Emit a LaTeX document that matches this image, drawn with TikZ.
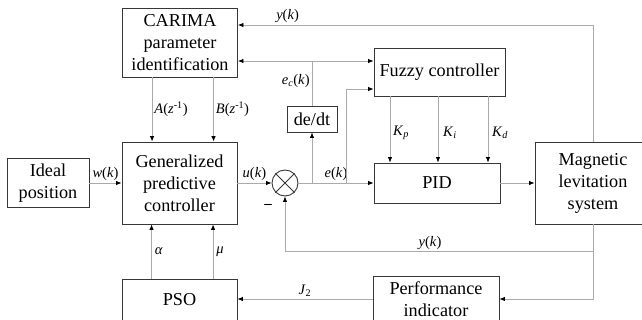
\documentclass[tikz,border=0pt]{standalone}
\usepackage{fontspec}
\setmainfont{Liberation Serif}
\definecolor{boxgray}{RGB}{55,55,55}
\definecolor{linegray}{RGB}{170,170,170}
\usetikzlibrary{arrows.meta,calc}

\newcommand{\ivar}[1]{\textit{#1}}
\newcommand{\ofk}{(\textit{k})}

\tikzset{
  block/.style={draw=boxgray, line width=0.9pt, align=center, inner sep=0pt, font=\fontsize{18.2}{22}\selectfont},
  conn/.style={draw=linegray, line width=0.8pt, -{Latex[length=5.5pt,width=4.5pt,color=black]}},
  wire/.style={draw=linegray, line width=0.8pt},
  sig/.style={font=\fontsize{14.5}{16}\selectfont, inner sep=1pt}
}

\begin{document}
\begin{tikzpicture}[x=1pt,y=-1pt]
\useasboundingbox (0,0) rectangle (642,320);

% blocks
\node[block, minimum width=115pt, minimum height=69pt] (carima) at (180,42.5) {CARIMA\\parameter\\identification};
\node[block, minimum width=115pt, minimum height=82pt] (gpc) at (179.5,183) {Generalized\\predictive\\controller};
\node[block, minimum width=82pt, minimum height=49pt] (ideal) at (48,183) {Ideal\\position};
\node[block, minimum width=115pt, minimum height=42pt] (pso) at (179.5,300) {PSO};
\node[block, minimum width=131pt, minimum height=48pt] (fuzzy) at (439.5,72) {Fuzzy controller};
\node[block, minimum width=50pt, minimum height=26pt] (dedt) at (312,119) {de/dt};
\node[block, minimum width=126pt, minimum height=40pt] (pid) at (437,183) {PID};
\node[block, minimum width=116pt, minimum height=82pt] (mag) at (593,183) {Magnetic\\levitation\\system};
\node[block, minimum width=126pt, minimum height=46pt] (perf) at (436,299) {Performance\\indicator};
\node[draw=boxgray, line width=0.9pt, circle, minimum size=26pt, inner sep=0pt] (sum) at (285,183) {};
\draw[boxgray, line width=0.9pt] (sum.north west) -- (sum.south east) (sum.north east) -- (sum.south west);

% junctions
\coordinate (dej) at (312,183);
\coordinate (ej) at (346,183);
\coordinate (ecj) at (312,61);
\coordinate (ytop) at (593,25);
\coordinate (yfb) at (593,251);

% forward path
\draw[conn] (ideal.east) -- (ideal.east -| gpc.west) node[sig, midway, above=1pt] {\ivar{w}\ofk};
\draw[conn] (gpc.east) -- (sum.west) node[sig, midway, above=1pt] {\ivar{u}\ofk};
\draw[conn] (sum.east) -- (pid.west) node[sig, pos=0.5, above=1pt] {\ivar{e}\ofk};
\draw[conn] (pid.east) -- (mag.west);
\node[font=\fontsize{15}{15}\selectfont\bfseries] (minus) at (268,206) {–};

% parameters into the predictive controller
\draw[conn] ($(carima.south west)+(30,0)$) coordinate (aout) -- (aout |- gpc.north) node[sig, midway, right=1pt] {\ivar{A}(\ivar{z}\textsuperscript{-1})};
\draw[conn] ($(carima.south west)+(91.5,0)$) coordinate (bout) -- (bout |- gpc.north) node[sig, midway, right=1pt] {\ivar{B}(\ivar{z}\textsuperscript{-1})};
\draw[conn] ($(pso.north west)+(30,0)$) coordinate (alout) -- (alout |- gpc.south) node[sig, midway, right=2pt] {\ivar{α}};
\draw[conn] ($(pso.north west)+(91.5,0)$) coordinate (muout) -- (muout |- gpc.south) node[sig, midway, right=2pt] {\ivar{μ}};

% error branches
\draw[conn] (dej) -- (dedt.south);
\draw[conn] (ej) |- ($(fuzzy.west)+(0,17)$);
\draw[wire] (dedt.north) -- (ecj) node[sig, pos=0.55, left=1pt] {\ivar{e}\textsubscript{\ivar{c}}\ofk};
\draw[conn] (ecj) -- (ecj -| carima.east);
\draw[conn] (ecj) -- (ecj -| fuzzy.west);

% gains
\foreach \gx/\gs/\gp in {390/p/401, 438/i/450, 488/d/500} {
  \draw[conn] (fuzzy.south -| \gx,0) -- (pid.north -| \gx,0);
  \node[sig] at (\gp,133) {\ivar{K}\textsubscript{\ivar{\gs}}};
}

% feedback
\draw[conn] (mag.north) -- (ytop) -- (ytop -| carima.east) node[sig, pos=0.86, above=1pt] {\ivar{y}\ofk};
\draw[conn] (mag.south) -- (yfb) -| (sum.south);
\node[sig] (ylow) at (430,243) {\ivar{y}\ofk};
\draw[conn] (yfb) |- (perf.east);
\draw[conn] (perf.west) -- (perf.west -| pso.east) node[sig, pos=0.5, above=1pt] {\ivar{J}\textsubscript{2}};
\end{tikzpicture}
\end{document}
